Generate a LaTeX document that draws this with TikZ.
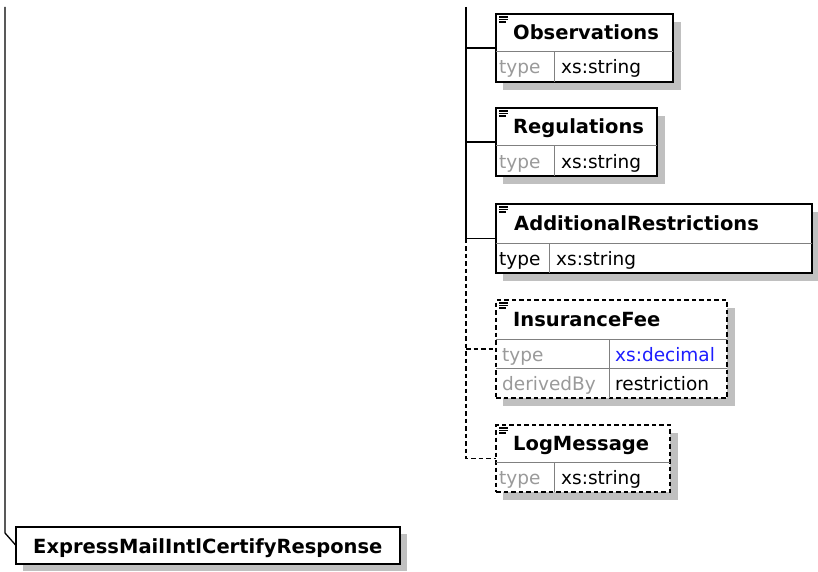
\documentclass[tikz,border=0pt]{standalone}
\usepackage{fontspec}
\newfontfamily\dejavu{DejaVu Sans}
\definecolor{shadowgray}{HTML}{C0C0C0}
\definecolor{labelgray}{HTML}{9A9A9A}
\definecolor{innergray}{HTML}{808080}
\definecolor{typeblue}{HTML}{1E1EFF}
\tikzset{
  elbox/.style={draw, fill=white, line width=1.2pt, inner sep=0pt, outer sep=0pt, anchor=north west},
  dashbox/.style={elbox, dash pattern=on 4.5pt off 3pt},
  shadow/.style={fill=shadowgray},
  hdr/.style={font=\dejavu\bfseries\fontsize{19.5}{19.5}\selectfont, anchor=base west, inner sep=0pt},
  cell/.style={font=\dejavu\fontsize{18.5}{18.5}\selectfont, anchor=base west, inner sep=0pt},
  lbl/.style={cell, text=labelgray},
  inner/.style={draw=innergray, line width=1pt},
  conn/.style={line width=1.3pt},
  dconn/.style={conn, dash pattern=on 4.5pt off 3pt},
  icon/.style={line width=1.1pt},
}
\begin{document}
\begin{tikzpicture}[x=1pt,y=-1pt]
\useasboundingbox (0,0) rectangle (818,572);

% ---------- shadows ----------
\fill[shadow] (503,22) rectangle (681,90);
\fill[shadow] (503,116) rectangle (665,184);
\fill[shadow] (503,212) rectangle (818,281);
\fill[shadow] (503,308) rectangle (735,406);
\fill[shadow] (503,433) rectangle (678,500);
\fill[shadow] (23,534) rectangle (407,571);

% ---------- connectors ----------
\coordinate (ltop) at (5,7);
\coordinate (lbend) at (5,533);
\coordinate (ttop) at (466,7);

% ---------- Observations ----------
\node[elbox, minimum width=177pt, minimum height=68pt] (obs) at (496,14) {};
\draw[inner] (496,52) -- (673,52);
\draw[inner] (554,52) -- (554,82);
\node[hdr] (obsT) at (513,40) {Observations};
\node[lbl] (obsK) at (499,74) {type};
\node[cell] (obsV) at (561,74) {xs:string};
\draw[icon] (499,17) -- (508,17) (499,19.5) -- (508,19.5) (499,22) -- (506,22);

% ---------- Regulations ----------
\node[elbox, minimum width=161pt, minimum height=68pt] (reg) at (496,108) {};
\draw[inner] (496,146) -- (657,146);
\draw[inner] (554,146) -- (554,176);
\node[hdr] (regT) at (513,134) {Regulations};
\node[lbl] (regK) at (499,168) {type};
\node[cell] (regV) at (561,168) {xs:string};
\draw[icon] (499,111) -- (508,111) (499,113.5) -- (508,113.5) (499,116) -- (506,116);

% ---------- AdditionalRestrictions ----------
\node[elbox, minimum width=316pt, minimum height=69pt] (add) at (496,204) {};
\draw[inner] (496,243) -- (812,243);
\draw[inner] (549,243) -- (549,273);
\node[hdr] (addT) at (514,230) {AdditionalRestrictions};
\node[cell] (addK) at (499,265) {type};
\node[cell] (addV) at (556,265) {xs:string};
\draw[icon] (499,207) -- (508,207) (499,209.5) -- (508,209.5) (499,212) -- (506,212);

% ---------- InsuranceFee ----------
\node[dashbox, minimum width=231pt, minimum height=98pt] (ins) at (496,300) {};
\draw[inner] (496,339) -- (727,339);
\draw[inner] (496,368) -- (727,368);
\draw[inner] (609,339) -- (609,398);
\node[hdr] (insT) at (513,326) {InsuranceFee};
\node[lbl] (insK1) at (502,361) {type};
\node[cell, text=typeblue] (insV1) at (615,361) {xs:decimal};
\node[lbl] (insK2) at (502,390) {derivedBy};
\node[cell] (insV2) at (615,390) {restriction};
\draw[icon] (499,303) -- (508,303) (499,305.5) -- (508,305.5) (499,308) -- (506,308);

% ---------- LogMessage ----------
\node[dashbox, minimum width=174pt, minimum height=67pt] (log) at (496,425) {};
\draw[inner] (496,462) -- (670,462);
\draw[inner] (554,462) -- (554,492);
\node[hdr] (logT) at (513,450) {LogMessage};
\node[lbl] (logK) at (499,484) {type};
\node[cell] (logV) at (561,484) {xs:string};
\draw[icon] (499,428) -- (508,428) (499,430.5) -- (508,430.5) (499,433) -- (506,433);

% ---------- root ----------
\node[elbox, minimum width=384pt, minimum height=37pt] (root) at (16,527) {};
\node[hdr] (rootT) at (33,553) {ExpressMailIntlCertifyResponse};

% ---------- connector lines ----------
\draw[conn] (ltop) -- (lbend) -- (root.west);
\draw[conn] (ttop) -- (ttop |- add.west) -- (add.west);
\draw[conn] (ttop |- obs.west) -- (obs.west);
\draw[conn] (ttop |- reg.west) -- (reg.west);
\draw[dconn] (ttop |- add.west) -- (ttop |- log.west) -- (log.west);
\draw[dconn] (ttop |- ins.west) -- (ins.west);
\end{tikzpicture}
\end{document}
